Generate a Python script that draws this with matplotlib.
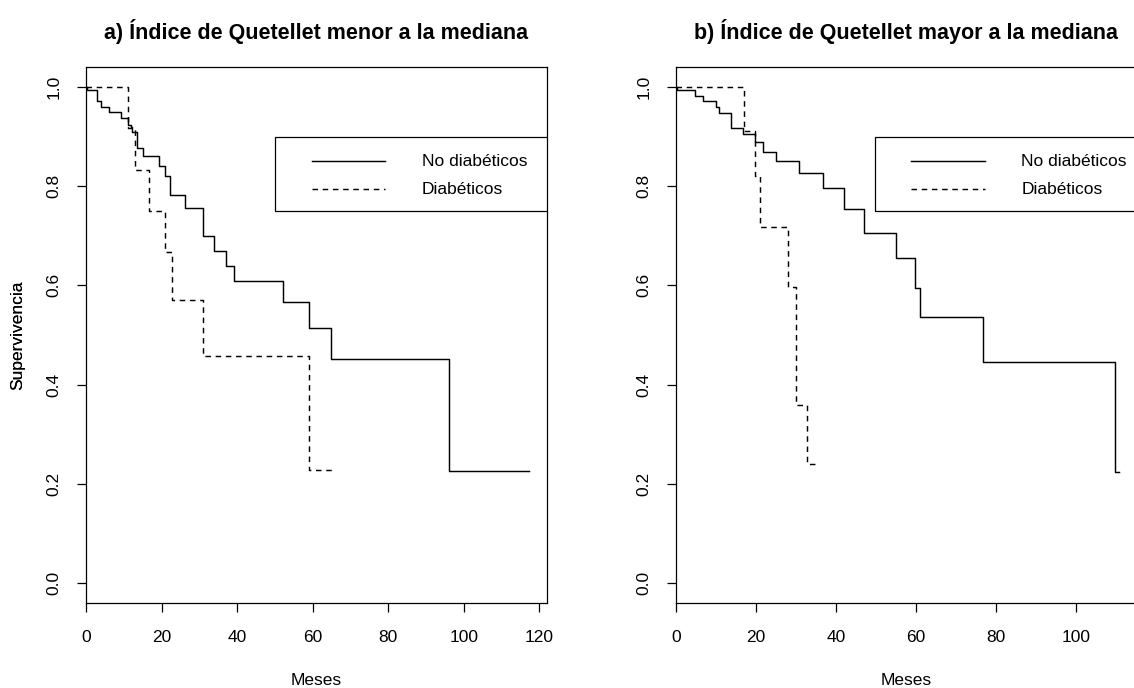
# Kaplan-Meier survival by diabetes status, split by Quetelet index median
import numpy as np
import matplotlib.pyplot as plt
from matplotlib.patches import Rectangle
from matplotlib.lines import Line2D

plt.rcParams['font.family'] = ['Liberation Sans', 'DejaVu Sans']

TITLES = ['a) Índice de Quetellet menor a la mediana',
          'b) Índice de Quetellet mayor a la mediana']
LEGEND_LABELS = ['No diabéticos', 'Diabéticos']
XLABEL = 'Meses'
YLABEL = 'Supervivencia'

# panel a: below median
A_NODIAB_T = [0, 0.3, 3.0, 4.0, 6.1, 9.2, 11.0, 11.8, 12.3, 13.5, 15.0, 19.2, 20.8,
              22.2, 26.1, 31.0, 34.0, 37.1, 39.1, 52.1, 59.1, 64.9, 96.1]
A_NODIAB_S = [1.0, 0.993, 0.970, 0.959, 0.948, 0.936, 0.923, 0.918, 0.909, 0.876, 0.861,
              0.841, 0.821, 0.781, 0.755, 0.700, 0.670, 0.638, 0.608, 0.566, 0.514,
              0.452, 0.226]
A_NODIAB_END = 117.3
A_DIAB_T = [0, 11.2, 12.9, 16.8, 20.8, 22.9, 31.0, 59.1]
A_DIAB_S = [1.0, 0.917, 0.833, 0.750, 0.667, 0.571, 0.457, 0.229]
A_DIAB_END = 65.2

# panel b: above median
B_NODIAB_T = [0, 0.3, 4.75, 6.8, 10.0, 10.8, 13.75, 16.8, 19.8, 21.8, 25.0, 30.8,
              36.8, 42.0, 46.9, 55.0, 59.8, 61.0, 76.8, 109.8]
B_NODIAB_S = [1.0, 0.993, 0.981, 0.970, 0.959, 0.946, 0.917, 0.904, 0.888, 0.868,
              0.850, 0.827, 0.796, 0.753, 0.706, 0.655, 0.595, 0.537, 0.446, 0.224]
B_NODIAB_END = 110.8
B_DIAB_T = [0, 17.0, 19.8, 21.0, 27.9, 29.9, 32.75]
B_DIAB_S = [1.0, 0.911, 0.820, 0.718, 0.597, 0.360, 0.241]
B_DIAB_END = 35.75

Y_TICKS = [0.0, 0.2, 0.4, 0.6, 0.8, 1.0]
X_TICKS = [0, 20, 40, 60, 80, 100, 120]

FS = 12.5
DASH = (0, (3.8, 3.2))

W, H = 1134, 688
fig = plt.figure(figsize=(W / 100, H / 100), dpi=100, facecolor='white')

# pixel boxes: left, top, right, bottom
BOXES = [(86, 66.7, 546.7, 603.3), (676, 66.7, 1137, 603.3)]
LEG_LEFT = [275, 874.7]


def km_step(ax, t, s, end, ls):
    tt = list(t) + [end]
    ss = list(s) + [s[-1]]
    ax.step(tt, ss, where='post', color='black', lw=1.05, linestyle=ls)


panels = [
    (A_NODIAB_T, A_NODIAB_S, A_NODIAB_END, A_DIAB_T, A_DIAB_S, A_DIAB_END),
    (B_NODIAB_T, B_NODIAB_S, B_NODIAB_END, B_DIAB_T, B_DIAB_S, B_DIAB_END),
]

for i, (nt, ns, nend, dt, ds, dend) in enumerate(panels):
    l, t, r, b = BOXES[i]
    ax = fig.add_axes([l / W, 1 - b / H, (r - l) / W, (b - t) / H])
    km_step(ax, nt, ns, nend, '-')
    km_step(ax, dt, ds, dend, DASH)

    ax.set_xticks(X_TICKS)
    ax.set_yticks(Y_TICKS)
    ax.set_yticklabels([f'{v:.1f}' for v in Y_TICKS])
    xmax = max(nend, dend) * 1.04
    ax.set_xlim(0, xmax)
    ax.set_ylim(-0.04, 1.04)

    ax.tick_params(direction='out', length=6.5, width=0.9, labelsize=FS, color='black')
    ax.tick_params(axis='x', pad=13)
    ax.tick_params(axis='y', pad=11)
    for lab in ax.get_yticklabels():
        lab.set_rotation(90)
        lab.set_va('center')
        lab.set_ha('right')
    for sp in ax.spines.values():
        sp.set_linewidth(0.9)
        sp.set_color('black')

    ax.set_title(TITLES[i], fontsize=15.5, fontweight='bold', pad=20)
    ax.set_xlabel(XLABEL, fontsize=FS, va='center')
    ax.xaxis.set_label_coords(0.5, -0.144)
    ax.set_ylabel(YLABEL, fontsize=FS, va='center')
    ax.yaxis.set_label_coords((17.5 - l) / (r - l), 0.5)

    # legend box, clipped at the plot region like the original
    wpx = r - l
    hpx = b - t
    bx = (LEG_LEFT[i] - l) / wpx
    by_top = (b - 136.7) / hpx
    by_bot = (b - 210.7) / hpx
    rect = Rectangle((bx, by_bot), 1.5, by_top - by_bot, transform=ax.transAxes,
                     fill=False, edgecolor='black', lw=0.9, clip_on=True)
    ax.add_patch(rect)
    row_y = [(b - 161) / hpx, (b - 189) / hpx]
    styles = ['-', DASH]
    for k, lab in enumerate(LEGEND_LABELS):
        ax.add_line(Line2D([bx + 36.7 / wpx, bx + 110 / wpx], [row_y[k], row_y[k]],
                           transform=ax.transAxes, color='black', lw=1.05,
                           linestyle=styles[k]))
        ax.text(bx + 146.7 / wpx, row_y[k], lab, transform=ax.transAxes,
                fontsize=FS, ha='left', va='center', clip_on=False)

fig.savefig('out.png', dpi=100, facecolor='white')
